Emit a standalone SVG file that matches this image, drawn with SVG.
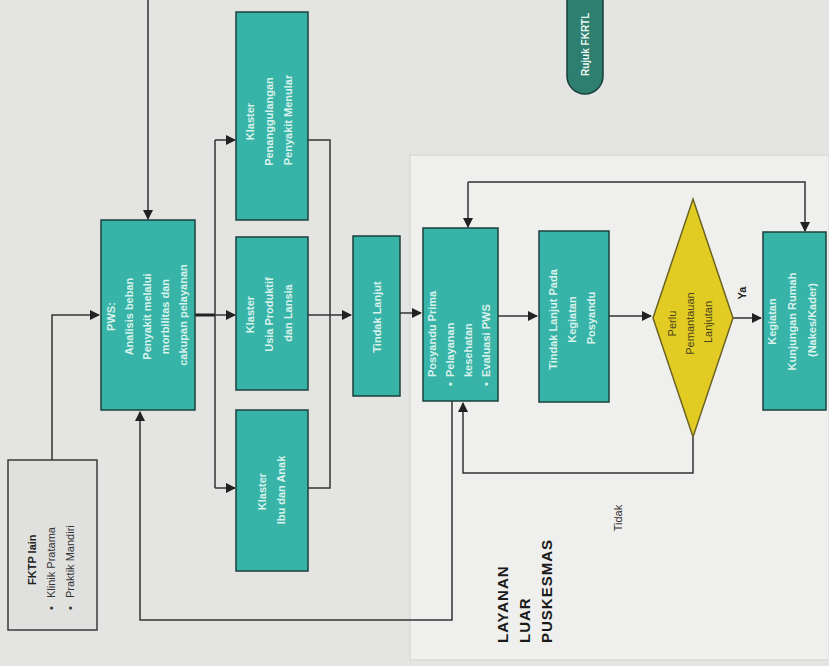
<svg xmlns="http://www.w3.org/2000/svg" width="829" height="666" viewBox="0 0 829 666">
<defs>
<style>
.bg{fill:#e4e4e2}
.panel{fill:#efefed;stroke:#d2d2d0;stroke-width:1}
.teal{fill:#38b3a7;stroke:#1d403d;stroke-width:1.5}
.grey{fill:#e0e0de;stroke:#3a3a3a;stroke-width:1.5}
.dia{fill:#e2cb22;stroke:#6a6424;stroke-width:1.5}
.pill{fill:#2f7f70;stroke:#173f38;stroke-width:1.5}
.t{font-family:"Liberation Sans",Arial,sans-serif;font-size:11px;font-weight:bold;fill:#d9f2ec}
.d{font-family:"Liberation Sans",Arial,sans-serif;font-size:11px;fill:#333}
.dk{font-family:"Liberation Sans",Arial,sans-serif;font-size:11px;font-weight:bold;fill:#222}
.big{font-family:"Liberation Sans",Arial,sans-serif;font-size:15px;font-weight:bold;fill:#1a1a1a;letter-spacing:1px}
.ln{fill:none;stroke:#333;stroke-width:1.5}
.thick{fill:none;stroke:#222;stroke-width:3}
</style>
<marker id="ahb" viewBox="0 0 10 10" refX="9" refY="5" markerWidth="10" markerHeight="10" orient="auto" markerUnits="userSpaceOnUse">
<path d="M0,0 L10,5 L0,10 z" fill="#222"/>
</marker>
</defs>
<rect class="bg" x="0" y="0" width="829" height="666"/>
<rect class="panel" x="410" y="155" width="419" height="505"/>

<g id="connectors">
<path class="ln" d="M148,0 V219" marker-end="url(#ahb)"/>
<path class="ln" d="M52,460 V315 H99" marker-end="url(#ahb)"/>
<path class="thick" d="M195,315 H215"/>
<path class="ln" d="M215,140 V488"/>
<path class="ln" d="M215,140 H235" marker-end="url(#ahb)"/>
<path class="ln" d="M215,315 H235" marker-end="url(#ahb)"/>
<path class="ln" d="M215,488 H235" marker-end="url(#ahb)"/>
<path class="ln" d="M308,140 H330 V488 H308"/>
<path class="ln" d="M308,315 H351" marker-end="url(#ahb)"/>
<path class="ln" d="M400,313 H421" marker-end="url(#ahb)"/>
<path class="ln" d="M498,316 H537" marker-end="url(#ahb)"/>
<path class="ln" d="M609,316 H651" marker-end="url(#ahb)"/>
<path class="ln" d="M733,318 H761" marker-end="url(#ahb)"/>
<path class="ln" d="M468,182 V227" marker-end="url(#ahb)"/>
<path class="ln" d="M468,182 H805 V231" marker-end="url(#ahb)"/>
<path class="ln" d="M693,437 V473 H463 V403" marker-end="url(#ahb)"/>
<path class="ln" d="M452,401 V620 H140 V412" marker-end="url(#ahb)"/>
<text class="dk" transform="translate(746,293) rotate(-90)" text-anchor="middle">Ya</text>
<text class="d" transform="translate(622,518) rotate(-90)" text-anchor="middle">Tidak</text>
</g>

<g id="rujuk">
<path class="pill" d="M567,-2 H603 V76 A18,18 0 0 1 567,76 Z"/>
<text class="t" transform="translate(589,76) rotate(-90)" style="fill:#eaf6f2;font-size:10px">Rujuk FKRTL</text>
</g>

<g id="fktp">
<rect class="grey" x="8" y="460" width="89" height="170"/>
<text class="dk" transform="translate(36,585) rotate(-90)">FKTP lain</text>
<text class="d" transform="translate(55,598) rotate(-90)"><tspan x="-12">•</tspan><tspan x="0">Klinik Pratama</tspan></text>
<text class="d" transform="translate(74,598) rotate(-90)"><tspan x="-12">•</tspan><tspan x="0">Praktik Mandiri</tspan></text>
</g>

<g id="pws">
<rect class="teal" x="101" y="220" width="94" height="190"/>
<text class="t" transform="translate(115,315) rotate(-90)" text-anchor="middle">
<tspan x="0" dy="0">PWS:</tspan>
<tspan x="0" dy="18">Analisis beban</tspan>
<tspan x="0" dy="18">Penyakit melalui</tspan>
<tspan x="0" dy="18">morbilitas dan</tspan>
<tspan x="0" dy="18">cakupan pelayanan</tspan>
</text>
</g>

<g id="klaster-ppm">
<rect class="teal" x="236" y="12" width="72" height="208"/>
<text class="t" transform="translate(254,120) rotate(-90)" text-anchor="middle">
<tspan x="0" dy="0">Klaster</tspan>
<tspan x="0" dy="19">Penanggulangan</tspan>
<tspan x="0" dy="19">Penyakit Menular</tspan>
</text>
</g>

<g id="klaster-upl">
<rect class="teal" x="236" y="237" width="72" height="153"/>
<text class="t" transform="translate(254,313) rotate(-90)" text-anchor="middle">
<tspan x="0" dy="0">Klaster</tspan>
<tspan x="0" dy="19">Usia Produktif</tspan>
<tspan x="0" dy="19">dan Lansia</tspan>
</text>
</g>

<g id="klaster-ia">
<rect class="teal" x="236" y="410" width="72" height="161"/>
<text class="t" transform="translate(266,490) rotate(-90)" text-anchor="middle">
<tspan x="0" dy="0">Klaster</tspan>
<tspan x="0" dy="19">Ibu dan Anak</tspan>
</text>
</g>

<g id="tindak-lanjut">
<rect class="teal" x="353" y="236" width="47" height="160"/>
<text class="t" transform="translate(381,317) rotate(-90)" text-anchor="middle">Tindak Lanjut</text>
</g>

<g id="posyandu">
<rect class="teal" x="423" y="228" width="75" height="173"/>
<text class="t" transform="translate(436,377) rotate(-90)">
<tspan x="0" dy="0">Posyandu Prima</tspan>
<tspan x="0" dy="18">Pelayanan</tspan>
<tspan x="0" dy="18">kesehatan</tspan>
<tspan x="0" dy="18">Evaluasi PWS</tspan>
</text>
<text class="t" transform="translate(436,386) rotate(-90)">
<tspan x="0" dy="18">•</tspan>
<tspan x="0" dy="36">•</tspan>
</text>
</g>

<g id="tindak-posyandu">
<rect class="teal" x="539" y="231" width="70" height="171"/>
<text class="t" transform="translate(557,318) rotate(-90)" text-anchor="middle">
<tspan x="0" dy="0">Tindak Lanjut Pada</tspan>
<tspan x="0" dy="19">Kegiatan</tspan>
<tspan x="0" dy="19">Posyandu</tspan>
</text>
</g>

<g id="keputusan">
<path class="dia" d="M693,199 L733,318 L693,437 L653,318 Z"/>
<text class="d" transform="translate(676,322) rotate(-90)" text-anchor="middle" style="fill:#4a4420">
<tspan x="0" dy="0">Perlu</tspan>
<tspan x="0" dy="18">Pemantauan</tspan>
<tspan x="0" dy="18">Lanjutan</tspan>
</text>
</g>

<g id="kunjungan">
<rect class="teal" x="763" y="232" width="63" height="178"/>
<text class="t" transform="translate(776,320) rotate(-90)" text-anchor="middle">
<tspan x="0" dy="0">Kegiatan</tspan>
<tspan x="0" dy="20">Kunjungan Rumah</tspan>
<tspan x="0" dy="20">(Nakes/Kader)</tspan>
</text>
</g>

<g id="layanan-luar">
<text class="big" transform="translate(508,643) rotate(-90)">
<tspan x="0" dy="0">LAYANAN</tspan>
<tspan x="0" dy="22">LUAR</tspan>
<tspan x="0" dy="22">PUSKESMAS</tspan>
</text>
</g>
</svg>
